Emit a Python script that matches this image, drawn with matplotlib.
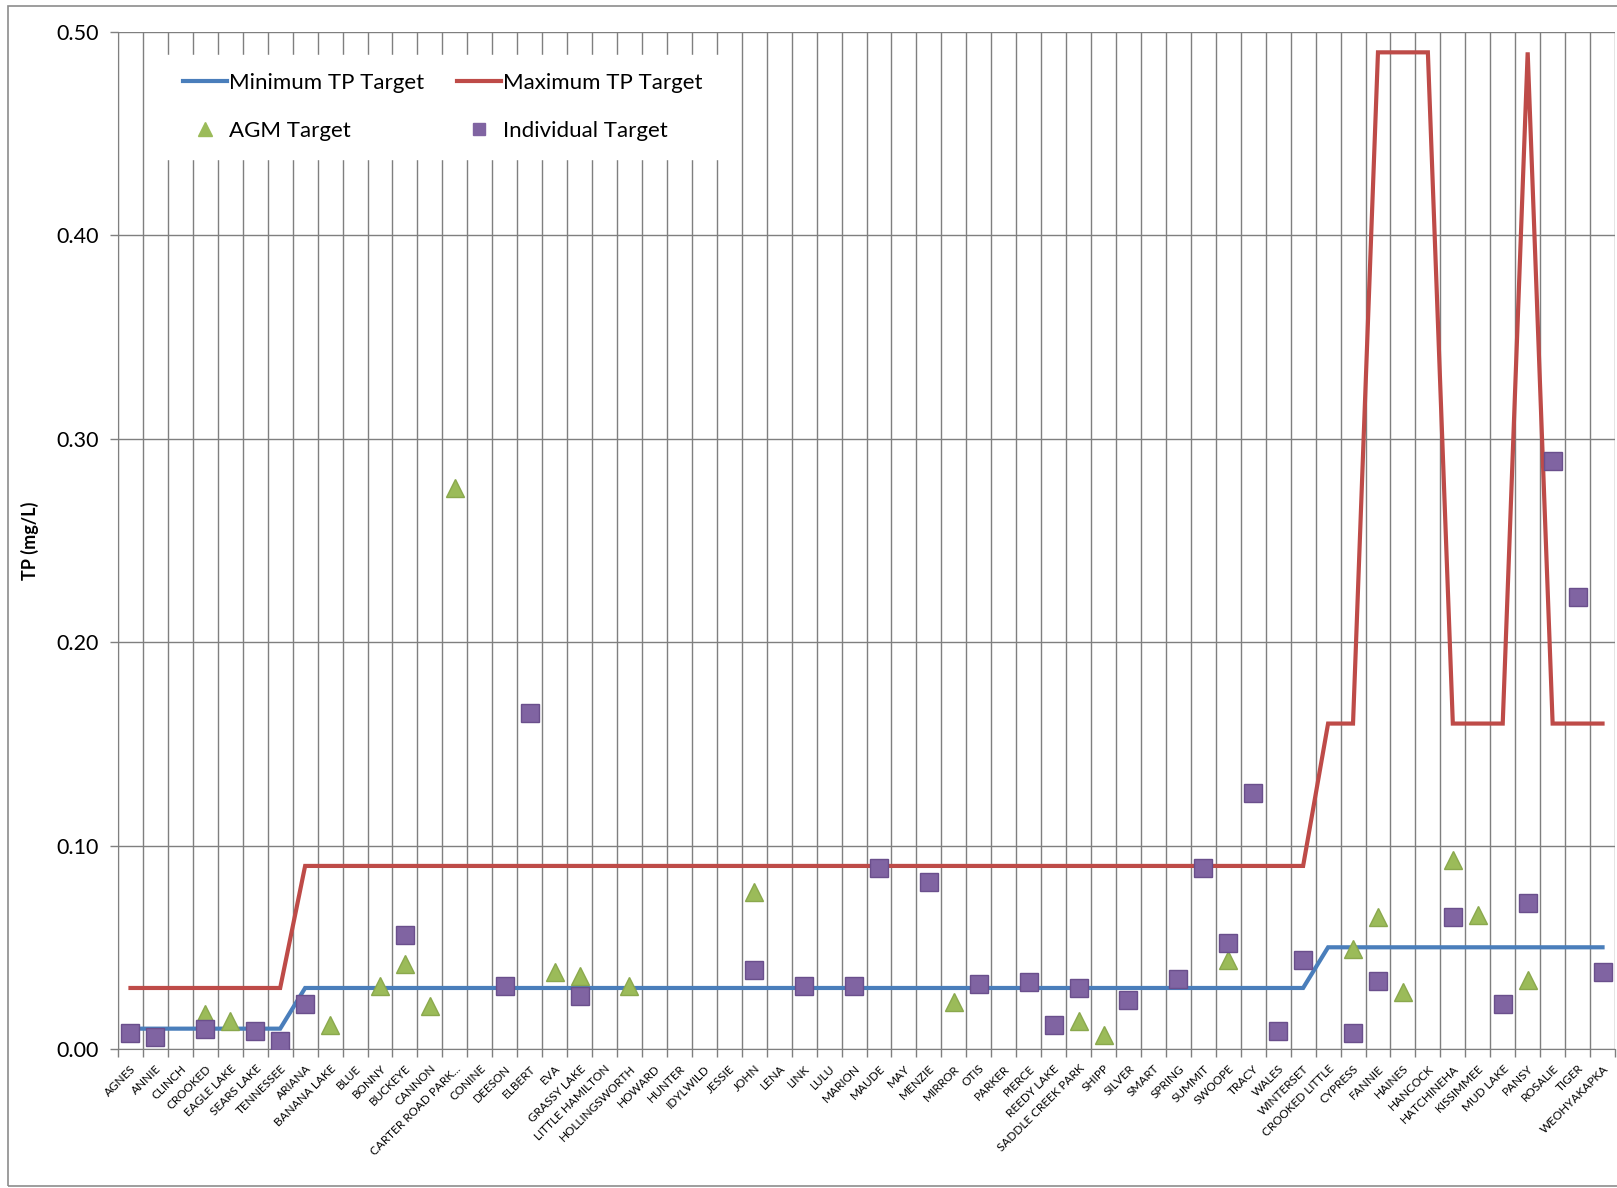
import numpy as np
import matplotlib

matplotlib.use('Agg')
import matplotlib.pyplot as plt
from matplotlib.lines import Line2D

plt.rcParams['font.family'] = ['Lato', 'DejaVu Sans']

lakes = [
    "AGNES", "ANNIE", "CLINCH", "CROOKED", "EAGLE LAKE", "SEARS LAKE", "TENNESSEE",
    "ARIANA", "BANANA LAKE", "BLUE", "BONNY", "BUCKEYE", "CANNON", "CARTER ROAD PARK...",
    "CONINE", "DEESON", "ELBERT", "EVA", "GRASSY LAKE", "LITTLE HAMILTON", "HOLLINGSWORTH",
    "HOWARD", "HUNTER", "IDYLWILD", "JESSIE", "JOHN", "LENA", "LINK", "LULU", "MARION",
    "MAUDE", "MAY", "MENZIE", "MIRROR", "OTIS", "PARKER", "PIERCE", "REEDY LAKE",
    "SADDLE CREEK PARK", "SHIPP", "SILVER", "SMART", "SPRING", "SUMMIT", "SWOOPE", "TRACY",
    "WALES", "WINTERSET", "CROOKED LITTLE", "CYPRESS", "FANNIE", "HAINES", "HANCOCK",
    "HATCHINEHA", "KISSIMMEE", "MUD LAKE", "PANSY", "ROSALIE", "TIGER", "WEOHYAKAPKA",
]

min_tp = [0.01] * 7 + [0.03] * 41 + [0.05] * 12
max_tp = ([0.03] * 7 + [0.09] * 41 +
          [0.16, 0.16, 0.49, 0.49, 0.49, 0.16, 0.16, 0.16, 0.49, 0.16, 0.16, 0.16])

# AGM targets (lake name -> TP mg/L)
agm = {
    "CROOKED": 0.017, "EAGLE LAKE": 0.014, "BANANA LAKE": 0.012, "BONNY": 0.031,
    "BUCKEYE": 0.042, "CANNON": 0.021, "CARTER ROAD PARK...": 0.276, "EVA": 0.038,
    "GRASSY LAKE": 0.036, "HOLLINGSWORTH": 0.031, "JOHN": 0.077, "MIRROR": 0.023,
    "SADDLE CREEK PARK": 0.014, "SHIPP": 0.007, "SWOOPE": 0.044, "CYPRESS": 0.049,
    "FANNIE": 0.065, "HAINES": 0.028, "HATCHINEHA": 0.093, "KISSIMMEE": 0.066,
    "PANSY": 0.034,
}

# individual lake targets
indiv = {
    "AGNES": 0.008, "ANNIE": 0.006, "CROOKED": 0.010, "SEARS LAKE": 0.009,
    "TENNESSEE": 0.004, "ARIANA": 0.022, "BUCKEYE": 0.056, "DEESON": 0.031,
    "ELBERT": 0.165, "GRASSY LAKE": 0.026, "JOHN": 0.039, "LINK": 0.031,
    "MARION": 0.031, "MAUDE": 0.089, "MENZIE": 0.082, "OTIS": 0.032, "PIERCE": 0.033,
    "REEDY LAKE": 0.012, "SADDLE CREEK PARK": 0.030, "SILVER": 0.024, "SPRING": 0.0345,
    "SUMMIT": 0.089, "SWOOPE": 0.052, "TRACY": 0.126, "WALES": 0.009,
    "WINTERSET": 0.044, "CYPRESS": 0.008, "FANNIE": 0.0335, "HATCHINEHA": 0.065,
    "MUD LAKE": 0.022, "PANSY": 0.072, "ROSALIE": 0.289, "TIGER": 0.222,
    "WEOHYAKAPKA": 0.038,
}

blue = '#4A7EBB'
red = '#BE4B48'
green = '#9BBB59'
purple = '#8064A2'
grid_c = '#7F7F7F'

x = np.arange(len(lakes))
pos = {name: i for i, name in enumerate(lakes)}

fig = plt.figure(figsize=(16.17, 11.88), dpi=100)
ax = fig.add_axes([118 / 1617, 1 - 1049 / 1188, (1615 - 118) / 1617, (1049 - 32) / 1188])

# outer chart border
fig.patches.append(plt.Rectangle((8 / 1617, 2 / 1188), 1.2, 1 - 8 / 1188,
                                 transform=fig.transFigure, fill=False,
                                 edgecolor='#8C8C8C', linewidth=1.2))

ax.plot(x, min_tp, color=blue, lw=3, solid_joinstyle='miter', zorder=3)
ax.plot(x, max_tp, color=red, lw=3, solid_joinstyle='miter', zorder=3)

ax.plot([pos[k] for k in agm], list(agm.values()), linestyle='none', marker='^',
        markersize=13, color=green, markeredgecolor='#8AA84D', zorder=4)
ax.plot([pos[k] for k in indiv], list(indiv.values()), linestyle='none', marker='s',
        markersize=13, color=purple, markeredgecolor='#6A4F8C', zorder=5)

ax.set_xlim(-0.5, len(lakes) - 0.5)
ax.set_ylim(0, 0.5)
ax.set_yticks(np.arange(0, 0.51, 0.1))
ax.set_yticklabels([f"{v:.2f}" for v in np.arange(0, 0.51, 0.1)], fontsize=15.5)
ax.set_xticks(x)
ax.set_xticklabels(lakes, rotation=45, ha='right', rotation_mode='anchor', fontsize=8.5)
ax.set_xticks(np.arange(-0.5, len(lakes)), minor=True)
ax.tick_params(axis='x', which='major', length=0, pad=10)
ax.tick_params(axis='x', which='minor', length=6, color=grid_c, width=1)
ax.tick_params(axis='y', length=6, color=grid_c, width=1, pad=8)

ax.grid(True, axis='y', which='major', color=grid_c, lw=1)
ax.grid(True, axis='x', which='minor', color=grid_c, lw=1)
ax.set_axisbelow(True)
for s in ['top', 'right']:
    ax.spines[s].set_visible(False)
for s in ['left', 'bottom']:
    ax.spines[s].set_color(grid_c)

ax.set_ylabel("TP (mg/L)", fontsize=13, fontweight='bold', labelpad=12)

handles = [
    Line2D([], [], color=blue, lw=3),
    Line2D([], [], color=green, marker='^', linestyle='none', markersize=10),
    Line2D([], [], color=red, lw=3),
    Line2D([], [], color=purple, marker='s', linestyle='none', markersize=9),
]
labels = ["Minimum TP Target", "AGM Target", "Maximum TP Target", "Individual Target"]
leg = ax.legend(handles, labels, ncol=2, loc='upper left', bbox_to_anchor=(0.024, 0.988),
                fontsize=16, frameon=True, fancybox=False, edgecolor='white',
                framealpha=1, handlelength=2.0, handletextpad=0.1, columnspacing=1.45,
                labelspacing=1.25, borderpad=0.8)

fig.savefig('out.png', dpi=100)
